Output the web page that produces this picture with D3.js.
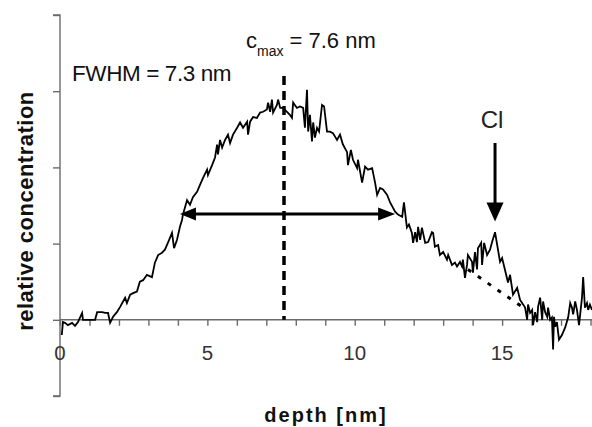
<!DOCTYPE html>
<html>
<head>
<meta charset="utf-8">
<script src="https://cdn.jsdelivr.net/npm/d3@7"></script>
<style>
  html, body { margin: 0; padding: 0; background: #fff; }
  svg { display: block; font-family: "Liberation Sans", Arial, sans-serif; }
</style>
</head>
<body>
<svg id="chart" width="592" height="427"></svg>
<script>
// Depth profile (nm) and relative concentration
const depth = [0.06,0.10,0.17,0.27,0.41,0.51,0.61,0.75,0.78,0.95,1.19,1.26,1.43,1.53,1.63,1.70,1.80,1.93,2.04,2.14,2.21,2.27,2.38,2.48,2.61,2.71,2.82,2.95,3.12,3.22,3.33,3.46,3.56,3.66,3.80,3.87,3.97,4.07,4.14,4.17,4.31,4.41,4.51,4.65,4.75,4.85,4.99,5.02,5.16,5.26,5.33,5.36,5.43,5.50,5.60,5.70,5.77,5.87,6.01,6.11,6.21,6.35,6.38,6.45,6.55,6.68,6.79,6.89,7.02,7.06,7.13,7.19,7.23,7.36,7.40,7.47,7.57,7.70,7.80,7.87,7.91,8.04,8.14,8.25,8.31,8.38,8.42,8.48,8.55,8.59,8.65,8.72,8.79,8.89,8.96,9.06,9.16,9.26,9.40,9.50,9.60,9.74,9.77,9.87,9.94,10.08,10.11,10.25,10.35,10.45,10.59,10.69,10.76,10.86,10.96,11.10,11.20,11.37,11.47,11.61,11.67,11.77,11.84,11.94,11.98,12.05,12.11,12.15,12.22,12.28,12.39,12.49,12.62,12.66,12.72,12.83,12.89,13.00,13.13,13.17,13.30,13.40,13.47,13.57,13.64,13.67,13.74,13.81,13.84,13.98,14.01,14.08,14.15,14.18,14.29,14.32,14.39,14.49,14.59,14.66,14.76,14.86,14.93,15.00,15.07,15.20,15.27,15.37,15.51,15.61,15.68,15.78,15.85,15.88,15.95,16.02,16.05,16.12,16.19,16.22,16.29,16.36,16.39,16.46,16.53,16.56,16.63,16.69,16.73,16.76,16.80,16.86,16.93,17.03,17.14,17.24,17.31,17.37,17.41,17.48,17.54,17.61,17.71,17.75,17.81,17.88,17.92,17.98,18.05];
const concentration = [-0.20,-0.03,-0.04,-0.07,-0.04,-0.08,-0.03,0.09,0.00,0.00,0.00,0.10,0.10,0.09,0.09,-0.04,0.04,0.10,0.17,0.24,0.29,0.22,0.33,0.35,0.37,0.50,0.52,0.59,0.56,0.75,0.85,0.88,0.92,1.01,1.14,0.94,1.05,1.22,1.31,1.38,1.57,1.51,1.61,1.68,1.77,1.86,1.97,1.90,2.03,2.13,2.30,2.17,2.36,2.26,2.36,2.43,2.32,2.43,2.52,2.59,2.52,2.60,2.43,2.60,2.66,2.65,2.72,2.73,2.76,2.85,2.73,2.89,2.72,2.82,2.89,2.78,2.78,2.73,2.69,2.65,2.85,2.78,2.80,2.78,2.52,3.02,2.47,2.69,2.34,2.59,2.39,2.52,2.47,2.82,2.80,2.47,2.47,2.45,2.36,2.43,2.30,2.20,2.03,2.23,2.10,1.99,2.10,1.80,2.01,1.97,1.99,1.80,1.64,1.73,1.71,1.64,1.54,1.42,1.38,1.35,1.54,1.21,1.25,1.14,1.01,1.15,1.02,1.22,1.05,1.21,1.01,1.02,1.15,1.14,0.96,0.98,0.85,0.89,0.79,0.85,0.72,0.75,0.70,0.76,0.70,0.79,0.55,0.72,0.85,0.76,0.62,0.89,0.66,0.94,1.01,0.72,1.01,0.85,0.92,1.02,1.15,0.92,0.76,0.81,0.70,0.49,0.59,0.33,0.42,0.26,0.22,0.16,0.00,0.20,0.09,0.13,-0.07,0.10,-0.03,0.17,0.29,0.00,0.24,0.10,0.04,0.16,0.00,0.03,-0.39,0.04,-0.09,-0.03,-0.26,-0.20,-0.10,0.03,0.22,0.16,0.07,0.24,0.13,-0.07,0.29,0.56,0.16,0.22,0.13,0.20,0.13];

// Linear baseline continued under the Cl peak
const baselineDepth = [13.84, 15.68];
const baselineConc = [0.66, 0.17];

// Axis ticks
const xTicks = d3.range(0, 19, 1);
const xTickLabels = [0, 5, 10, 15];
const yTicks = [-1, 0, 1, 2, 3, 4];

// Annotation values
const cMax = 7.6;           // nm, peak position
const cMaxTop = 3.2;        // top of the peak marker line
const fwhm = 7.3;           // nm
const fwhmStart = 4.07;     // nm, left half-maximum point
const halfMax = 1.39;       // relative concentration at half maximum
const clDepth = 14.76;      // nm, Cl peak
const clArrowTop = 2.32;
const clArrowTip = 1.29;

const svg = d3.select("#chart");
const x = d3.scaleLinear().domain([0, 18.05]).range([60, 592]);
const y = d3.scaleLinear().domain([-1, 4]).range([396, 15]);

const axisColor = "#6b6b6b";

// y axis: vertical line with outward ticks, no labels
const yAxis = svg.append("g").attr("transform", `translate(${x(0)},0)`)
  .call(d3.axisLeft(y).tickValues(yTicks).tickSize(7).tickFormat(""));
yAxis.select(".domain").attr("d", `M-7,${y(4)}H0V${y(-1)}H-7`).attr("stroke", axisColor).attr("stroke-width", 1.4);
yAxis.selectAll(".tick line").attr("stroke", axisColor).attr("stroke-width", 1.4);

// x axis along zero concentration
const xAxis = svg.append("g").attr("transform", `translate(0,${y(0)})`)
  .call(d3.axisBottom(x).tickValues(xTicks).tickSize(6).tickFormat(""));
xAxis.select(".domain").attr("d", `M${x(0)},0H${x(18.05)}`).attr("stroke", axisColor).attr("stroke-width", 1.4);
xAxis.selectAll(".tick line").attr("stroke", axisColor).attr("stroke-width", 1.4);

svg.append("g").selectAll("text").data(xTickLabels).join("text")
  .attr("x", d => x(d)).attr("y", 360)
  .attr("text-anchor", "middle")
  .attr("font-size", 20.5).attr("fill", "#333")
  .text(d => d);

// Axis titles
svg.append("text")
  .attr("transform", "translate(33,211) rotate(-90)")
  .attr("text-anchor", "middle")
  .attr("font-size", 22).attr("font-weight", "bold").attr("letter-spacing", 0.5)
  .attr("fill", "#111")
  .text("relative concentration");

svg.append("text")
  .attr("x", 326).attr("y", 422)
  .attr("text-anchor", "middle")
  .attr("font-size", 20).attr("font-weight", "bold").attr("letter-spacing", 2)
  .attr("fill", "#111")
  .text("depth [nm]");

// Profile
const profile = depth.map((d, i) => [d, concentration[i]]);
svg.append("path")
  .datum(profile)
  .attr("fill", "none").attr("stroke", "#000").attr("stroke-width", 1.8)
  .attr("stroke-linejoin", "miter")
  .attr("d", d3.line().x(d => x(d[0])).y(d => y(d[1])));

// Baseline extrapolation
svg.append("path")
  .datum(baselineDepth.map((d, i) => [d, baselineConc[i]]))
  .attr("fill", "none").attr("stroke", "#000").attr("stroke-width", 3)
  .attr("stroke-dasharray", "4,8")
  .attr("d", d3.line().x(d => x(d[0])).y(d => y(d[1])));

// Peak position marker
svg.append("line")
  .attr("x1", x(cMax)).attr("x2", x(cMax))
  .attr("y1", y(cMaxTop)).attr("y2", y(0))
  .attr("stroke", "#000").attr("stroke-width", 3.5)
  .attr("stroke-dasharray", "9,6");

// FWHM double arrow
const ax0 = x(fwhmStart), ax1 = x(fwhmStart + fwhm), ay = y(halfMax);
svg.append("line")
  .attr("x1", ax0 + 10).attr("x2", ax1 - 10).attr("y1", ay).attr("y2", ay)
  .attr("stroke", "#000").attr("stroke-width", 3);
const head = d3.path();
head.moveTo(ax0, ay); head.lineTo(ax0 + 16, ay - 6.5); head.lineTo(ax0 + 16, ay + 6.5); head.closePath();
head.moveTo(ax1, ay); head.lineTo(ax1 - 17, ay - 6.5); head.lineTo(ax1 - 17, ay + 6.5); head.closePath();
svg.append("path").attr("d", head.toString()).attr("fill", "#000");

// Cl arrow
const cx = x(clDepth), cTop = y(clArrowTop), cTip = y(clArrowTip);
svg.append("line")
  .attr("x1", cx).attr("x2", cx).attr("y1", cTop).attr("y2", cTip - 10)
  .attr("stroke", "#000").attr("stroke-width", 3);
const clHead = d3.path();
clHead.moveTo(cx, cTip); clHead.lineTo(cx - 8.5, cTip - 19); clHead.lineTo(cx + 8.5, cTip - 19); clHead.closePath();
svg.append("path").attr("d", clHead.toString()).attr("fill", "#000");

// Annotations
svg.append("text")
  .attr("x", 72).attr("y", 81)
  .attr("font-size", 22.5).attr("letter-spacing", -0.4).attr("fill", "#111")
  .text("FWHM = 7.3 nm");

const cm = svg.append("text").attr("x", 246).attr("y", 48).attr("font-size", 22).attr("fill", "#111");
cm.append("tspan").text("c");
cm.append("tspan").attr("font-size", 14).attr("dy", 8).text("max");
cm.append("tspan").attr("dy", -8).text(" = " + cMax + " nm");

svg.append("text")
  .attr("x", 492).attr("y", 128)
  .attr("text-anchor", "middle")
  .attr("font-size", 24).attr("fill", "#222")
  .text("Cl");
</script>
</body>
</html>
